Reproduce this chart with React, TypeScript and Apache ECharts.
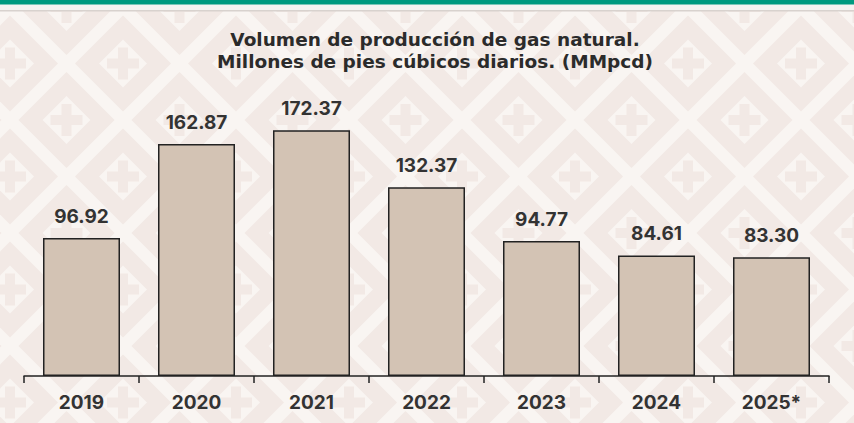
import React, { useEffect, useRef } from "react";
import * as echarts from "echarts";

const categories = ["2019", "2020", "2021", "2022", "2023", "2024", "2025*"];
const values = [96.92, 162.87, 172.37, 132.37, 94.77, 84.61, 83.3];
const titleText = "Volumen de producción de gas natural.\nMillones de pies cúbicos diarios. (MMpcd)";

const W = 854;
const H = 423;
const LIGHT = "#f9f5f2";
const DARK = "#f2e9e5";

function buildPattern() {
  const els: any[] = [];
  const step = 56.5;
  const x0 = 10;
  const y0 = 63.5;
  for (let j = -2; j <= 8; j++) {
    for (let i = -1; i <= 16; i++) {
      if ((((i + j) % 2) + 2) % 2 !== 0) continue;
      const cx = x0 + i * step;
      const cy = y0 + j * step;
      const dOut = 48;
      const dIn = 24;
      els.push({
        type: "polygon",
        silent: true,
        z: -10,
        shape: { points: [[cx, cy - dOut], [cx + dOut, cy], [cx, cy + dOut], [cx - dOut, cy]] },
        style: { fill: DARK },
      });
      els.push({
        type: "polygon",
        silent: true,
        z: -9,
        shape: { points: [[cx, cy - dIn], [cx + dIn, cy], [cx, cy + dIn], [cx - dIn, cy]] },
        style: { fill: LIGHT },
      });
      els.push({
        type: "rect",
        silent: true,
        z: -8,
        shape: { x: cx - 16, y: cy - 5, width: 32, height: 10 },
        style: { fill: DARK },
      });
      els.push({
        type: "rect",
        silent: true,
        z: -8,
        shape: { x: cx - 5, y: cy - 16, width: 10, height: 32 },
        style: { fill: DARK },
      });
    }
  }
  els.push({ type: "rect", silent: true, z: -5, shape: { x: 0, y: 0, width: W, height: 10.5 }, style: { fill: "#f7f4f2" } });
  els.push({ type: "rect", silent: true, z: -4, shape: { x: 0, y: 0, width: W, height: 4.5 }, style: { fill: "#009a80" } });
  els.push({ type: "rect", silent: true, z: -4, shape: { x: 0, y: 10, width: W, height: 1.5 }, style: { fill: "#d8d2ce" } });
  return els;
}

export default function App() {
  const ref = useRef<HTMLDivElement>(null);
  useEffect(() => {
    document.body.style.margin = "0";
    if (!ref.current) return;
    const chart = echarts.init(ref.current, null, { renderer: "svg" });
    chart.setOption({
      animation: false,
      backgroundColor: LIGHT,
      graphic: { elements: buildPattern() },
      title: {
        text: titleText,
        left: 430,
        top: 23,
        textAlign: "center",
        textStyle: {
          fontFamily: "DejaVu Sans",
          fontWeight: "bold",
          fontSize: 18.5,
          lineHeight: 22.5,
          color: "#2b2b2b",
        },
      },
      grid: { left: 24, right: 25, top: 91, bottom: 47 },
      xAxis: {
        type: "category",
        data: categories,
        boundaryGap: true,
        axisLine: { lineStyle: { color: "#222", width: 1.5 } },
        axisTick: { show: true, length: 7, lineStyle: { color: "#222", width: 1.5 } },
        axisLabel: {
          margin: 17,
          fontFamily: "Inter",
          fontWeight: 700,
          fontSize: 19,
          color: "#333",
        },
      },
      yAxis: {
        type: "value",
        min: 0,
        max: 200,
        show: false,
        splitLine: { show: false },
      },
      series: [
        {
          type: "bar",
          data: values,
          barWidth: 77,
          itemStyle: { color: "#d3c3b4", borderColor: "#222", borderWidth: 1.5 },
          label: {
            show: true,
            position: "top",
            distance: 12,
            formatter: (p: any) => Number(p.value).toFixed(2),
            fontFamily: "Inter",
            fontWeight: 700,
            fontSize: 19,
            color: "#333",
          },
        },
      ],
    });
    return () => chart.dispose();
  }, []);
  return <div ref={ref} style={{ width: W, height: H }} />;
}
